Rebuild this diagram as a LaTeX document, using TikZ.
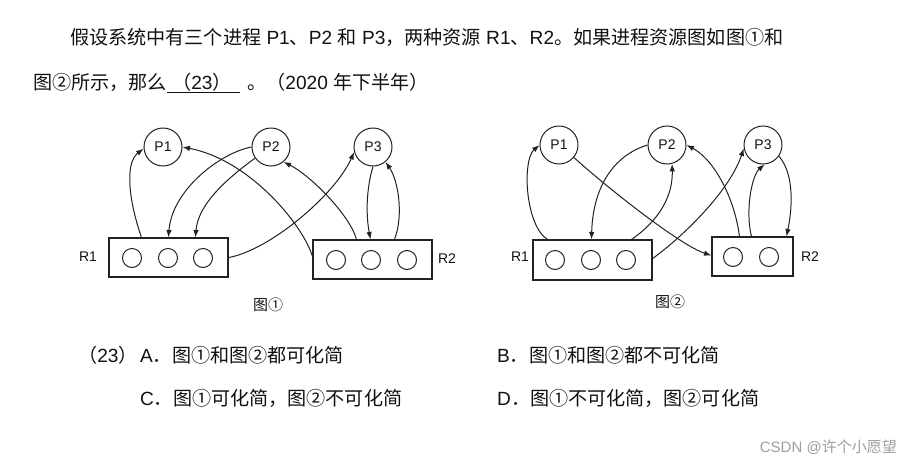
\documentclass[tikz,border=0pt]{standalone}
\usepackage{fontspec}
\setmainfont{Liberation Sans}
\newfontfamily\cjk{Noto Sans CJK SC}
\usetikzlibrary{arrows.meta,calc}
\definecolor{ln}{HTML}{222222}
\definecolor{tx}{HTML}{111111}
\begin{document}
\begin{tikzpicture}[x=1pt,y=-1pt,
  proc/.style={circle,draw=ln,line width=1pt,minimum size=38pt,inner sep=0pt,font=\fontsize{14}{14}\selectfont,text=tx},
  res/.style={draw=ln,line width=1.1pt,inner sep=0pt},
  slot/.style={circle,draw=ln,line width=1pt,minimum size=19pt,inner sep=0pt},
  conn/.style={draw=ln,line width=1pt,-{Latex[length=7.5pt,width=5.5pt]}},
  lab/.style={font=\fontsize{14}{14}\selectfont,text=tx,inner sep=0pt},
  figcap/.style={font=\cjk\fontsize{15}{15}\selectfont,text=tx,inner sep=0pt},
  txt/.style={anchor=base west,inner sep=0pt,font=\fontsize{19.1}{19.1}\selectfont,text=tx}]
\fill[white] (0,0) rectangle (902,461);
\useasboundingbox (0,0) rectangle (902,461);

% ---------- text ----------
\node[txt] (t1) at (70,44) {{\cjk 假设系统中有三个进程} P1{\cjk 、}P2 {\cjk 和} P3{\cjk ，两种资源} R1{\cjk 、}R2{\cjk 。如果进程资源图如图①和}};
\node[txt] (t2) at (33,89) {\cjk 图②所示，那么};
\node[txt] (t3) at (172,89) {{\cjk （}23{\cjk ）}};
\draw[tx,line width=1pt] ($(t3.base west)+(-5,3)$) -- ($(t3.base east)+(8,3)$);
\node[txt] (t4) at (247,89) {{\cjk 。（}2020 {\cjk 年下半年）}};

\node[txt] (o0) at (78,362) {{\cjk （}23{\cjk ）}};
\node[txt] (oa) at (140,362) {A{\cjk ．图①和图②都可化简}};
\node[txt] (oc) at (140,405) {C{\cjk ．图①可化简，图②不可化简}};
\node[txt] (ob) at (497,362) {B{\cjk ．图①和图②都不可化简}};
\node[txt] (od) at (497,405) {D{\cjk ．图①不可化简，图②可化简}};

\node[anchor=east,inner sep=0pt,font=\fontsize{15}{15}\selectfont,text=black!38] (wm) at (897,447) {CSDN @{\cjk 许个小愿望}};

% ---------- figure 1 ----------
\node[proc] (pa) at (163,147) {P1};
\node[proc] (pb) at (271,147) {P2};
\node[proc] (pc) at (373,147) {P3};
\node[res,minimum width=119pt,minimum height=39pt] (ra) at (168.5,257.5) {};
\node[slot] (ra1) at (132,258) {};
\node[slot] (ra2) at (168,258) {};
\node[slot] (ra3) at (203,258) {};
\node[res,minimum width=119pt,minimum height=39pt] (rb) at (372.5,259.5) {};
\node[slot] (rb1) at (336,260) {};
\node[slot] (rb2) at (371,260) {};
\node[slot] (rb3) at (407,260) {};
\node[lab] (lra) at (88,257) {R1};
\node[lab] (lrb) at (447,259) {R2};
\node[figcap] (c1) at (268,305) {图①};

\draw[conn] ($(ra.north west)+(33,0)$) .. controls (127,195) and (126,162) .. (pa.185);
\draw[conn] (pb.180) .. controls (220,153) and (172,190) .. ($(ra.north west)+(60,0)$);
\draw[conn] (pb.215) .. controls (225,180) and (198,205) .. ($(ra.north west)+(87,0)$);
\draw[conn] ($(rb.north west)+(0,17)$) .. controls (303,225) and (250,160) .. (pa.east);
\draw[conn] ($(ra.south east)+(0,-20)$) .. controls (270,250) and (335,195) .. (pc.195);
\draw[conn] ($(rb.north west)+(44,0)$) .. controls (350,215) and (310,175) .. (pb.-50);
\draw[conn] (pc.south) .. controls (366,190) and (366,215) .. ($(rb.north west)+(58,0)$);
\draw[conn] ($(rb.north west)+(82,0)$) .. controls (404,215) and (398,180) .. (pc.-50);

% ---------- figure 2 ----------
\node[proc] (pd) at (559,145) {P1};
\node[proc] (pe) at (667,145) {P2};
\node[proc] (pf) at (763,145) {P3};
\node[res,minimum width=119pt,minimum height=40pt] (rc) at (592.5,260) {};
\node[slot] (rc1) at (555,260) {};
\node[slot] (rc2) at (591,260) {};
\node[slot] (rc3) at (626,260) {};
\node[res,minimum width=81pt,minimum height=39pt] (rd) at (752.5,256.5) {};
\node[slot] (rd1) at (733,257) {};
\node[slot] (rd2) at (769,257) {};
\node[lab] (lrc) at (520,257) {R1};
\node[lab] (lrd) at (810,257) {R2};
\node[figcap] (c2) at (670,302) {图②};

\draw[conn] ($(rc.north west)+(15,0)$) .. controls (525,225) and (522,160) .. (pd.180);
\draw[conn] (pe.180) .. controls (615,155) and (593,185) .. ($(rc.north west)+(59,0)$);
\draw[conn] (pd.-40) .. controls (610,190) and (680,245) .. ($(rd.south west)+(0,-21)$);
\draw[conn] ($(rc.north west)+(99,0)$) .. controls (660,220) and (673,195) .. (pe.-75);
\draw[conn] ($(rc.south east)+(0,-22)$) .. controls (685,235) and (730,190) .. (pf.190);
\draw[conn] ($(rd.north west)+(28,0)$) .. controls (735,200) and (715,160) .. (pe.east);
\draw[conn] ($(rd.north west)+(40,0)$) .. controls (745,210) and (752,175) .. (pf.-85);
\draw[conn] (pf.-35) .. controls (795,175) and (792,210) .. ($(rd.north west)+(75,0)$);
\end{tikzpicture}
\end{document}
